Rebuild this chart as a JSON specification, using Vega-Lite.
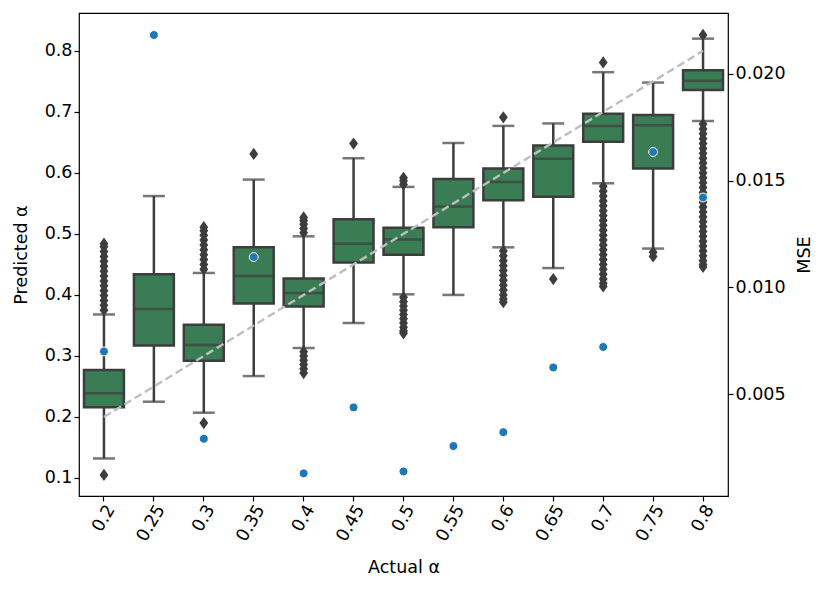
{
  "$schema": "https://vega.github.io/schema/vega-lite/v6.json",
  "width": 649,
  "height": 483,
  "autosize": "none",
  "padding": {"left": 79, "top": 13, "right": 103, "bottom": 95},
  "background": "white",
  "config": {
    "font": "DejaVu Sans",
    "view": {"stroke": "black", "strokeWidth": 1.2},
    "axis": {
      "grid": false,
      "domain": false,
      "tickColor": "black",
      "tickSize": 5,
      "tickWidth": 1.2,
      "labelFont": "DejaVu Sans",
      "labelFontSize": 17.5,
      "labelColor": "black",
      "titleFont": "DejaVu Sans",
      "titleFontSize": 17.5,
      "titleFontWeight": "normal",
      "titleColor": "black"
    }
  },
  "datasets": {
    "stats": [
      {"a": "0.2", "lo": 0.132, "q1": 0.216, "med": 0.239, "q3": 0.277, "hi": 0.368, "mse": 0.0070},
      {"a": "0.25", "lo": 0.225, "q1": 0.317, "med": 0.377, "q3": 0.434, "hi": 0.562, "mse": 0.02182},
      {"a": "0.3", "lo": 0.207, "q1": 0.292, "med": 0.318, "q3": 0.351, "hi": 0.436, "mse": 0.00291},
      {"a": "0.35", "lo": 0.267, "q1": 0.386, "med": 0.431, "q3": 0.478, "hi": 0.589, "mse": 0.01142},
      {"a": "0.4", "lo": 0.313, "q1": 0.381, "med": 0.403, "q3": 0.427, "hi": 0.496, "mse": 0.00129},
      {"a": "0.45", "lo": 0.354, "q1": 0.453, "med": 0.484, "q3": 0.524, "hi": 0.624, "mse": 0.00438},
      {"a": "0.5", "lo": 0.401, "q1": 0.466, "med": 0.491, "q3": 0.510, "hi": 0.577, "mse": 0.00138},
      {"a": "0.55", "lo": 0.400, "q1": 0.511, "med": 0.545, "q3": 0.590, "hi": 0.649, "mse": 0.00257},
      {"a": "0.6", "lo": 0.478, "q1": 0.555, "med": 0.585, "q3": 0.607, "hi": 0.677, "mse": 0.00322},
      {"a": "0.65", "lo": 0.444, "q1": 0.561, "med": 0.623, "q3": 0.645, "hi": 0.681, "mse": 0.00625},
      {"a": "0.7", "lo": 0.583, "q1": 0.651, "med": 0.677, "q3": 0.697, "hi": 0.765, "mse": 0.00721},
      {"a": "0.75", "lo": 0.476, "q1": 0.607, "med": 0.678, "q3": 0.695, "hi": 0.748, "mse": 0.01634},
      {"a": "0.8", "lo": 0.685, "q1": 0.736, "med": 0.751, "q3": 0.768, "hi": 0.820, "mse": 0.01421}
    ],
    "outliers": [
      {"a": "0.2", "v": 0.105},
      {"a": "0.2", "v": 0.375}, {"a": "0.2", "v": 0.383}, {"a": "0.2", "v": 0.391}, {"a": "0.2", "v": 0.399},
      {"a": "0.2", "v": 0.407}, {"a": "0.2", "v": 0.415}, {"a": "0.2", "v": 0.423}, {"a": "0.2", "v": 0.431},
      {"a": "0.2", "v": 0.439}, {"a": "0.2", "v": 0.447}, {"a": "0.2", "v": 0.455}, {"a": "0.2", "v": 0.463},
      {"a": "0.2", "v": 0.471}, {"a": "0.2", "v": 0.479}, {"a": "0.2", "v": 0.484},
      {"a": "0.3", "v": 0.190},
      {"a": "0.3", "v": 0.442}, {"a": "0.3", "v": 0.450}, {"a": "0.3", "v": 0.458}, {"a": "0.3", "v": 0.466},
      {"a": "0.3", "v": 0.474}, {"a": "0.3", "v": 0.482}, {"a": "0.3", "v": 0.490}, {"a": "0.3", "v": 0.498},
      {"a": "0.3", "v": 0.505}, {"a": "0.3", "v": 0.511},
      {"a": "0.35", "v": 0.631},
      {"a": "0.4", "v": 0.502}, {"a": "0.4", "v": 0.509}, {"a": "0.4", "v": 0.516}, {"a": "0.4", "v": 0.522}, {"a": "0.4", "v": 0.527},
      {"a": "0.4", "v": 0.307}, {"a": "0.4", "v": 0.300}, {"a": "0.4", "v": 0.293}, {"a": "0.4", "v": 0.286},
      {"a": "0.4", "v": 0.279}, {"a": "0.4", "v": 0.272},
      {"a": "0.45", "v": 0.648},
      {"a": "0.5", "v": 0.581}, {"a": "0.5", "v": 0.587}, {"a": "0.5", "v": 0.592},
      {"a": "0.5", "v": 0.396}, {"a": "0.5", "v": 0.389}, {"a": "0.5", "v": 0.382}, {"a": "0.5", "v": 0.375},
      {"a": "0.5", "v": 0.368}, {"a": "0.5", "v": 0.361}, {"a": "0.5", "v": 0.354}, {"a": "0.5", "v": 0.347},
      {"a": "0.5", "v": 0.341}, {"a": "0.5", "v": 0.337},
      {"a": "0.6", "v": 0.691},
      {"a": "0.6", "v": 0.472}, {"a": "0.6", "v": 0.464}, {"a": "0.6", "v": 0.456}, {"a": "0.6", "v": 0.448},
      {"a": "0.6", "v": 0.440}, {"a": "0.6", "v": 0.432}, {"a": "0.6", "v": 0.424}, {"a": "0.6", "v": 0.416},
      {"a": "0.6", "v": 0.408}, {"a": "0.6", "v": 0.400}, {"a": "0.6", "v": 0.393}, {"a": "0.6", "v": 0.388},
      {"a": "0.65", "v": 0.426},
      {"a": "0.7", "v": 0.781},
      {"a": "0.7", "v": 0.578}, {"a": "0.7", "v": 0.570}, {"a": "0.7", "v": 0.562}, {"a": "0.7", "v": 0.554},
      {"a": "0.7", "v": 0.546}, {"a": "0.7", "v": 0.538}, {"a": "0.7", "v": 0.530}, {"a": "0.7", "v": 0.522},
      {"a": "0.7", "v": 0.514}, {"a": "0.7", "v": 0.506}, {"a": "0.7", "v": 0.498}, {"a": "0.7", "v": 0.490},
      {"a": "0.7", "v": 0.482}, {"a": "0.7", "v": 0.474}, {"a": "0.7", "v": 0.466}, {"a": "0.7", "v": 0.458},
      {"a": "0.7", "v": 0.450}, {"a": "0.7", "v": 0.442}, {"a": "0.7", "v": 0.434}, {"a": "0.7", "v": 0.426},
      {"a": "0.7", "v": 0.419}, {"a": "0.7", "v": 0.414},
      {"a": "0.75", "v": 0.470}, {"a": "0.75", "v": 0.463},
      {"a": "0.8", "v": 0.826},
      {"a": "0.8", "v": 0.680}, {"a": "0.8", "v": 0.672}, {"a": "0.8", "v": 0.664}, {"a": "0.8", "v": 0.656},
      {"a": "0.8", "v": 0.648}, {"a": "0.8", "v": 0.640}, {"a": "0.8", "v": 0.632}, {"a": "0.8", "v": 0.624},
      {"a": "0.8", "v": 0.616}, {"a": "0.8", "v": 0.608}, {"a": "0.8", "v": 0.600}, {"a": "0.8", "v": 0.592},
      {"a": "0.8", "v": 0.584}, {"a": "0.8", "v": 0.576}, {"a": "0.8", "v": 0.568}, {"a": "0.8", "v": 0.560},
      {"a": "0.8", "v": 0.552}, {"a": "0.8", "v": 0.544}, {"a": "0.8", "v": 0.536}, {"a": "0.8", "v": 0.528},
      {"a": "0.8", "v": 0.520}, {"a": "0.8", "v": 0.512}, {"a": "0.8", "v": 0.504}, {"a": "0.8", "v": 0.496},
      {"a": "0.8", "v": 0.488}, {"a": "0.8", "v": 0.480}, {"a": "0.8", "v": 0.472}, {"a": "0.8", "v": 0.464},
      {"a": "0.8", "v": 0.456}, {"a": "0.8", "v": 0.450}, {"a": "0.8", "v": 0.446}
    ],
    "diag": [
      {"a": "0.2", "v": 0.2},
      {"a": "0.8", "v": 0.8}
    ]
  },
  "resolve": {"scale": {"y": "independent"}},
  "layer": [
    {
      "encoding": {
        "x": {
          "field": "a",
          "type": "ordinal",
          "sort": null,
          "scale": {"type": "band", "domain": ["0.2","0.25","0.3","0.35","0.4","0.45","0.5","0.55","0.6","0.65","0.7","0.75","0.8"], "paddingInner": 0, "paddingOuter": 0},
          "axis": {"title": "Actual α", "labelAngle": -60, "labelAlign": "right", "labelBaseline": "middle", "labelOffset": 7, "labelPadding": 5, "titlePadding": 15}
        }
      },
      "layer": [
        {
          "data": {"name": "stats"},
          "mark": {"type": "rule", "color": "#3d3d3d", "strokeWidth": 2.5},
          "encoding": {
            "y": {"field": "lo", "type": "quantitative", "scale": {"domain": [0.0705, 0.862], "nice": false, "zero": false},
              "axis": {"title": "Predicted α", "values": [0.1,0.2,0.3,0.4,0.5,0.6,0.7,0.8], "format": ".1f", "titlePadding": 14}},
            "y2": {"field": "hi"}
          }
        },
        {
          "data": {"name": "stats"},
          "mark": {"type": "tick", "color": "#3d3d3d", "size": 22, "thickness": 2.5},
          "encoding": {"y": {"field": "lo", "type": "quantitative"}}
        },
        {
          "data": {"name": "stats"},
          "mark": {"type": "tick", "color": "#3d3d3d", "size": 22, "thickness": 2.5},
          "encoding": {"y": {"field": "hi", "type": "quantitative"}}
        },
        {
          "data": {"name": "stats"},
          "mark": {"type": "bar", "width": {"band": 0.8}, "fill": "#3a7d55", "stroke": "#3d3d3d", "strokeWidth": 2.5},
          "encoding": {
            "y": {"field": "q1", "type": "quantitative"},
            "y2": {"field": "q3"}
          }
        },
        {
          "data": {"name": "stats"},
          "mark": {"type": "tick", "color": "#3d3d3d", "size": 40, "thickness": 2.5},
          "encoding": {"y": {"field": "med", "type": "quantitative"}}
        },
        {
          "data": {"name": "outliers"},
          "mark": {"type": "point", "shape": "M0,-1L0.72,0L0,1L-0.72,0Z", "filled": true, "color": "#3d3d3d", "size": 150, "opacity": 1},
          "encoding": {"y": {"field": "v", "type": "quantitative"}}
        },
        {
          "data": {"name": "diag"},
          "mark": {"type": "line", "color": "#bfbfbf", "strokeWidth": 2.4, "strokeDash": [8, 4]},
          "encoding": {"y": {"field": "v", "type": "quantitative"}}
        }
      ]
    },
    {
      "data": {"name": "stats"},
      "mark": {"type": "point", "filled": true, "fill": "#1f77b4", "stroke": "white", "strokeWidth": 1, "size": 80, "opacity": 1},
      "encoding": {
        "x": {"field": "a", "type": "ordinal", "sort": null},
        "y": {
          "field": "mse", "type": "quantitative",
          "scale": {"domain": [0.00023, 0.02285], "nice": false, "zero": false},
          "axis": {"orient": "right", "title": "MSE", "titleAngle": -90, "values": [0.005, 0.01, 0.015, 0.02], "format": ".3f", "titlePadding": 28}
        }
      }
    }
  ]
}
